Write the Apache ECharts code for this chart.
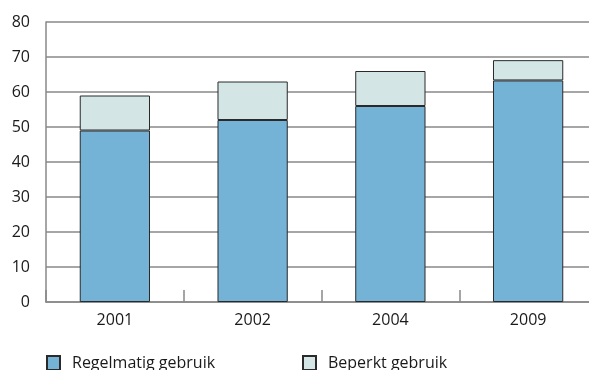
<!DOCTYPE html>
<html><head><meta charset="utf-8">
<script src="https://cdn.jsdelivr.net/npm/echarts@6/dist/echarts.min.js"></script>
<style>html,body{margin:0;padding:0;background:#fff}#c{width:589px;height:370px}</style>
</head><body><div id="c"></div>
<script>
const categories = ['2001', '2002', '2004', '2009'];
const regelmatig = [49, 52, 56, 63.3];
const beperkt = [10, 11, 10, 5.8];
const yTicks = [0, 10, 20, 30, 40, 50, 60, 70, 80];

const font = '"Open Sans", "Noto Sans", sans-serif';
const chart = echarts.init(document.getElementById('c'), null, {renderer: 'canvas'});
chart.setOption({
  animation: false,
  grid: {left: 46, top: 22, width: 551, bottom: 68, outerBoundsMode: 'none', containLabel: false},
  legend: [
    {data: ['Regelmatig gebruik'], left: 41, top: 350, itemWidth: 13, itemHeight: 14, icon: 'rect',
     textStyle: {fontFamily: font, fontSize: 16, color: '#1a1a1a', padding: [0, 0, 0, 7]}},
    {data: ['Beperkt gebruik'], left: 297, top: 350, itemWidth: 13, itemHeight: 14, icon: 'rect',
     textStyle: {fontFamily: font, fontSize: 16, color: '#1a1a1a', padding: [0, 0, 0, 7]}}
  ],
  xAxis: {
    type: 'category', data: categories,
    axisLine: {lineStyle: {color: '#888', width: 1.5}},
    axisTick: {show: true, inside: true, length: 12, lineStyle: {color: '#888', width: 1.5}},
    axisLabel: {fontFamily: font, fontSize: 16, color: '#1a1a1a', margin: 10}
  },
  yAxis: {
    type: 'value', min: yTicks[0], max: yTicks[yTicks.length - 1], interval: 10,
    axisLine: {show: true, lineStyle: {color: '#888', width: 1.5}},
    axisTick: {show: false},
    splitLine: {lineStyle: {color: '#888', width: 1.5}},
    axisLabel: {fontFamily: font, fontSize: 16, color: '#1a1a1a', margin: 16}
  },
  series: [
    {name: 'Regelmatig gebruik', type: 'bar', stack: 't', data: regelmatig, barWidth: '51%',
     itemStyle: {color: '#74B3D6', borderColor: '#2a2a2a', borderWidth: 1}},
    {name: 'Beperkt gebruik', type: 'bar', stack: 't', data: beperkt, barWidth: '51%',
     itemStyle: {color: '#D3E5E4', borderColor: '#2a2a2a', borderWidth: 1}}
  ]
});
</script></body></html>
